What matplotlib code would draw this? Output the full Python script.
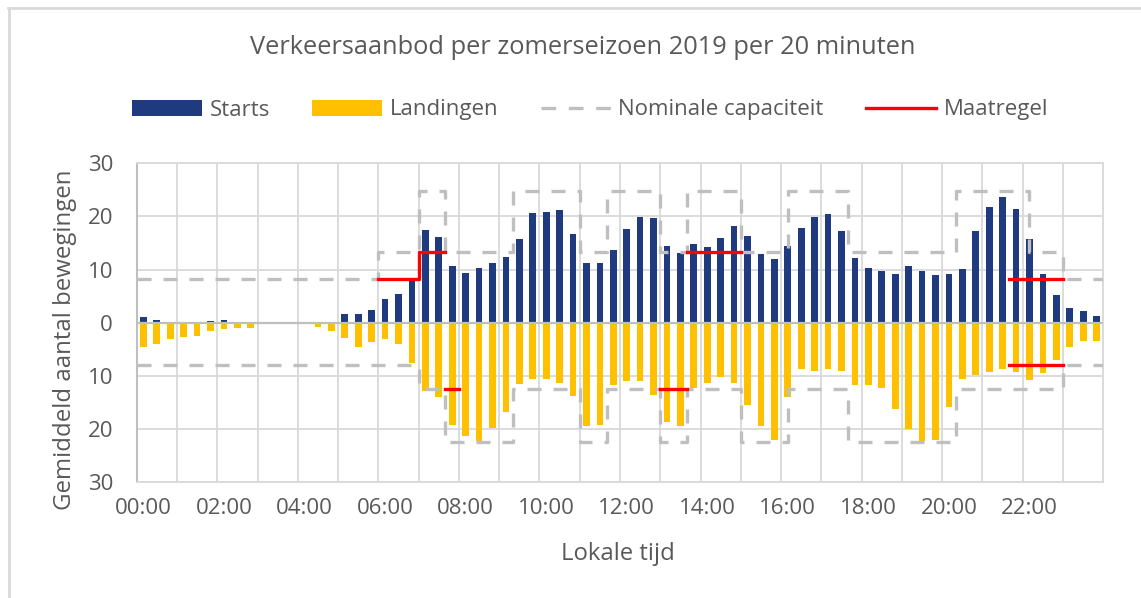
import numpy as np
import matplotlib
matplotlib.use("Agg")
import matplotlib.pyplot as plt
from matplotlib.lines import Line2D
from matplotlib.patches import Patch

plt.rcParams['font.family'] = ['Open Sans', 'DejaVu Sans']

# ---- data -----------------------------------------------------------
# 72 slots of 20 minutes, 00:00 .. 23:40
slots = [f"{h:02d}:{m:02d}" for h in range(24) for m in (0, 20, 40)]

starts = [1.1, 0.6, 0, 0, 0, 0.4, 0.6, 0, 0, 0, 0, 0,
          0, 0, 0, 1.7, 1.7, 2.4, 4.4, 5.4, 8.1, 17.5, 16.2, 10.6,
          9.4, 10.4, 11.2, 12.4, 15.7, 20.7, 20.9, 21.2, 16.7, 11.2, 11.2, 13.7,
          17.7, 19.9, 19.7, 14.4, 13.2, 14.9, 14.2, 15.9, 18.2, 16.4, 12.9, 12.0,
          14.4, 17.9, 19.9, 20.4, 17.2, 12.2, 10.4, 9.7, 9.2, 10.7, 9.7, 8.9,
          9.2, 10.2, 17.2, 21.7, 23.7, 21.4, 15.7, 9.2, 5.2, 2.7, 2.2, 1.2]

landingen = [4.5, 4.0, 3.0, 2.75, 2.5, 1.5, 1.25, 1.0, 1.0, 0.3, 0, 0,
             0.3, 0.75, 1.5, 2.8, 4.5, 3.6, 3.0, 4.0, 7.5, 12.75, 14.0, 19.25,
             21.25, 22.25, 19.75, 16.75, 11.5, 10.5, 10.5, 11.25, 13.75, 19.5, 19.25, 11.75,
             11.0, 11.0, 13.5, 18.75, 19.5, 12.25, 11.25, 10.25, 11.25, 15.5, 19.5, 22.0,
             14.0, 8.75, 9.0, 8.75, 9.0, 11.75, 11.75, 12.25, 16.25, 20.0, 22.25, 22.0,
             15.75, 10.5, 9.75, 9.25, 8.75, 9.25, 10.75, 9.5, 7.0, 4.5, 3.5, 3.5]

# nominal capacity: step boundaries (hours) and value per segment
cap_t = [0, 6, 7, 7 + 40/60, 9 + 20/60, 11, 11 + 40/60, 13, 13 + 40/60, 15,
         16 + 10/60, 17 + 40/60, 20 + 20/60, 22 + 10/60, 23, 24]
cap_up = [8.3, 13.4, 24.7, 13.4, 24.7, 13.4, 24.7, 13.4, 24.7, 13.4,
          24.7, 13.4, 24.7, 13.4, 8.3]
cap_lo = [7.9, 7.9, 12.4, 22.5, 12.4, 22.5, 12.4, 22.5, 12.4, 22.5,
          12.4, 22.5, 12.4, 12.4, 7.9]

# maatregel (measure) segments, NaN separates pieces
mr_up_t = [6, 7, 7 + 40/60, np.nan, 13 + 40/60, 15, np.nan, 21 + 40/60, 23]
mr_up_v = [8.3, 13.4, 13.4, np.nan, 13.4, 13.4, np.nan, 8.3, 8.3]
mr_lo_t = [7 + 40/60, 8, np.nan, 13, 13 + 40/60, np.nan, 21 + 40/60, 23]
mr_lo_v = [12.4, 12.4, np.nan, 12.4, 12.4, np.nan, 7.9, 7.9]

xtick_labels = ["00:00", "02:00", "04:00", "06:00", "08:00", "10:00",
                "12:00", "14:00", "16:00", "18:00", "20:00", "22:00"]

# ---- style ------------------------------------------------------------
C_START = '#1F3A7F'
C_LAND = '#FFC000'
C_CAP = '#BFBFBF'
C_RED = '#FF0000'
C_GRID = '#D9D9D9'
C_TEXT = '#595959'

W, H = 1141, 598
fig = plt.figure(figsize=(W / 100, H / 100), dpi=100)
L, R, T, B = 136.7, 1103.3, 163.3, 482.3
ax = fig.add_axes([L / W, 1 - B / H, (R - L) / W, (B - T) / H])

slot_hours = (np.arange(len(slots)) + 0.5) / 3.0
bw = 1 / 6.0
ax.bar(slot_hours, starts, width=bw, color=C_START, zorder=3)
ax.bar(slot_hours, -np.array(landingen), width=bw, color=C_LAND, zorder=3)

ax.axhline(0, color=C_CAP, lw=1.6, zorder=4)

dash = dict(color=C_CAP, lw=2.4, dashes=(4.2, 3.6), zorder=5)
ax.step(cap_t, cap_up + [cap_up[-1]], where='post', **dash)
ax.step(cap_t, -np.array(cap_lo + [cap_lo[-1]]), where='post', **dash)

ax.step(mr_up_t, mr_up_v, where='post', color=C_RED, lw=2.4, zorder=6)
ax.step(mr_lo_t, -np.array(mr_lo_v), where='post', color=C_RED, lw=2.4, zorder=6)

ax.set_xlim(0, 24)
ax.set_ylim(-30, 30)

# grid
ax.set_xticks(np.arange(0, 25, 1))
ax.set_xticklabels([])
ax.tick_params(axis='x', which='major', length=0)
ax.set_xticks(np.arange(len(xtick_labels)) * 2 + 1 / 6.0, minor=True)
ax.set_xticklabels(xtick_labels, minor=True)
ax.tick_params(axis='x', which='minor', length=0, pad=11, labelsize=16, labelcolor=C_TEXT)

yt = np.arange(-30, 31, 10)
ax.set_yticks(yt)
ax.set_yticklabels([str(abs(v)) for v in yt])
ax.tick_params(axis='y', length=0, pad=17, labelsize=16, labelcolor=C_TEXT)

ax.grid(True, which='major', color=C_GRID, lw=1.3, zorder=0)
ax.set_axisbelow(True)
for s in ['top', 'right', 'bottom']:
    ax.spines[s].set_color(C_GRID)
    ax.spines[s].set_linewidth(1.3)
ax.spines['left'].set_color(C_CAP)
ax.spines['left'].set_linewidth(1.5)

# texts
fig.text(582.5 / W, 1 - 47 / H, "Verkeersaanbod per zomerseizoen 2019 per 20 minuten",
         ha='center', va='center', fontsize=18.3, color=C_TEXT)
fig.text(618 / W, 1 - 554 / H, "Lokale tijd", ha='center', va='center',
         fontsize=17.2, color=C_TEXT)
fig.text(65 / W, 1 - 340 / H, "Gemiddeld aantal bewegingen", ha='center', va='center',
         rotation=90, fontsize=17.3, color=C_TEXT)

handles = [Patch(facecolor=C_START, edgecolor='none', label='Starts'),
           Patch(facecolor=C_LAND, edgecolor='none', label='Landingen'),
           Line2D([], [], color=C_CAP, lw=2.4, dashes=(4.4, 3.8), label='Nominale capaciteit'),
           Line2D([], [], color=C_RED, lw=2.4, label='Maatregel')]
leg = fig.legend(handles=handles, loc='center', bbox_to_anchor=(590 / W, 1 - 110 / H),
                 ncol=4, frameon=False, fontsize=16, handlelength=3.15,
                 handletextpad=0.35, columnspacing=1.9, borderaxespad=0)
for t in leg.get_texts():
    t.set_color(C_TEXT)

# outer frame (top and left edges visible)
fig.add_artist(Line2D([8 / W, 1], [1 - 8 / H, 1 - 8 / H], transform=fig.transFigure,
                      color=C_GRID, lw=2))
fig.add_artist(Line2D([9 / W, 9 / W], [0, 1 - 8 / H], transform=fig.transFigure,
                      color=C_GRID, lw=2))

fig.savefig('out.png', dpi=100)
